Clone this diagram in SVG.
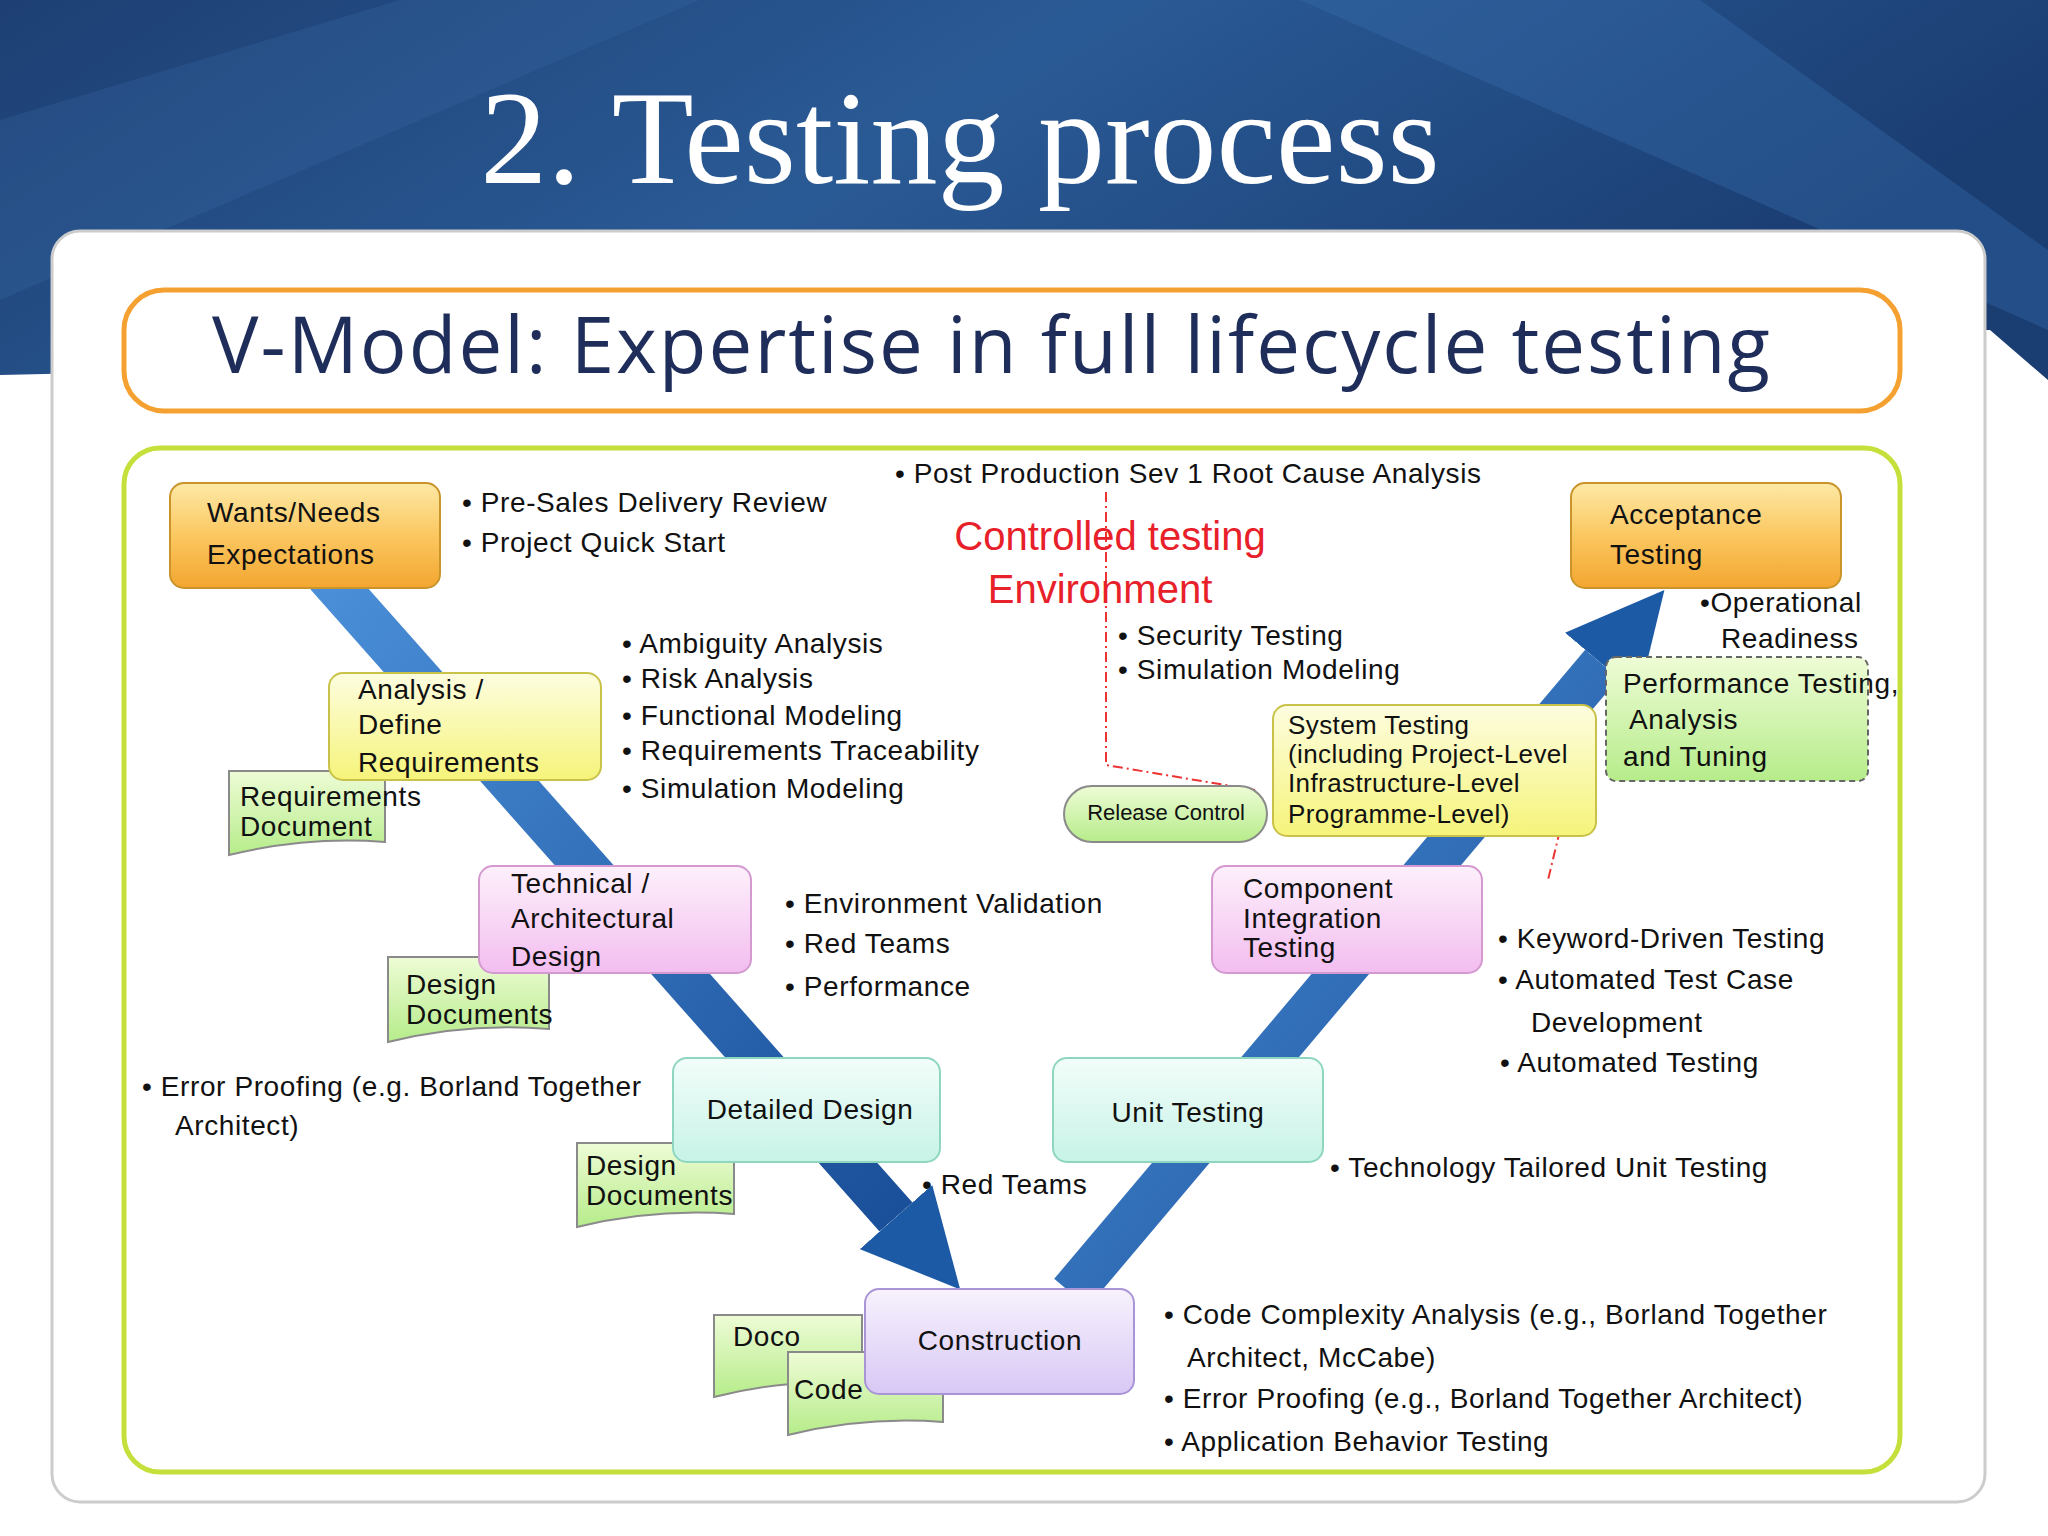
<svg xmlns="http://www.w3.org/2000/svg" width="2048" height="1536" viewBox="0 0 2048 1536">
<defs>
<linearGradient id="bg" x1="0" y1="0" x2="1" y2="0.3"><stop offset="0" stop-color="#1d3f73"/><stop offset="0.5" stop-color="#2a5a95"/><stop offset="1" stop-color="#1a3d72"/></linearGradient>
<linearGradient id="org" x1="0" y1="0" x2="0" y2="1"><stop offset="0" stop-color="#fde9a6"/><stop offset="0.5" stop-color="#fbc760"/><stop offset="1" stop-color="#f3a630"/></linearGradient>
<linearGradient id="yel" x1="0" y1="0" x2="0" y2="1"><stop offset="0" stop-color="#fdfde0"/><stop offset="1" stop-color="#f6f47a"/></linearGradient>
<linearGradient id="pnk" x1="0" y1="0" x2="0" y2="1"><stop offset="0" stop-color="#fdf0fb"/><stop offset="1" stop-color="#f3bdf0"/></linearGradient>
<linearGradient id="cyn" x1="0" y1="0" x2="0" y2="1"><stop offset="0" stop-color="#f2fdfa"/><stop offset="1" stop-color="#c7f3e6"/></linearGradient>
<linearGradient id="lav" x1="0" y1="0" x2="0" y2="1"><stop offset="0" stop-color="#f7f2fd"/><stop offset="1" stop-color="#d8c8f5"/></linearGradient>
<linearGradient id="grn" x1="0" y1="0" x2="0" y2="1"><stop offset="0" stop-color="#eefcd6"/><stop offset="1" stop-color="#b6ec8a"/></linearGradient>
<linearGradient id="arr" x1="0" y1="0" x2="1" y2="1"><stop offset="0" stop-color="#4a8fd8"/><stop offset="1" stop-color="#1a4f99"/></linearGradient>
<marker id="ah" viewBox="0 0 10 10" refX="0" refY="5" markerWidth="2.2" markerHeight="2.2" orient="auto" markerUnits="strokeWidth"><path d="M0,0 L10,5 L0,10 Z" fill="#1d5aa6"/></marker>
</defs>
<style>
.t{font-family:"Liberation Sans",Arial,sans-serif;font-size:28px;letter-spacing:0.6px;fill:#111}
.s{font-family:"Liberation Sans",Arial,sans-serif;font-size:26px;letter-spacing:0.4px;fill:#111}
.c{text-anchor:middle}
.d{fill:url(#grn);stroke:#8a8a8a;stroke-width:2}
</style>
<rect width="2048" height="1536" fill="#fff"/>
<polygon points="0,0 2048,0 2048,380 1990,330 0,375" fill="url(#bg)"/>
<polygon points="1300,0 1700,0 2048,250 2048,330" fill="#3a6fb0" opacity="0.35"/>
<polygon points="0,120 400,0 700,0 0,300" fill="#3a6aa8" opacity="0.25"/>
<text x="960" y="183" font-family="Liberation Serif,serif" font-size="134" fill="#fff" text-anchor="middle">2. Testing process</text>
<rect x="52" y="231" width="1933" height="1271" rx="28" fill="#fff" stroke="#ccc" stroke-width="3"/>
<rect x="124" y="290" width="1776" height="121" rx="40" fill="#fff" stroke="#f5a132" stroke-width="5"/>
<text x="992" y="373" font-family="Open Sans,Liberation Sans,sans-serif" font-size="78" letter-spacing="2" fill="#1e2d5a" text-anchor="middle">V-Model:  Expertise in full lifecycle testing</text>
<rect x="124" y="448" width="1776" height="1024" rx="36" fill="#fff" stroke="#c5e03a" stroke-width="5"/>
<g id="connectors">
<line x1="327" y1="575" x2="896" y2="1217" stroke="url(#arr)" stroke-width="44" marker-end="url(#ah)"/>
<line x1="1071" y1="1293" x2="1602" y2="664" stroke="url(#arr)" stroke-width="44" marker-end="url(#ah)"/>
<path d="M1106,492 V765 L1255,790" fill="none" stroke="#e33" stroke-width="2" stroke-dasharray="10,4,2,4"/>
<path d="M1560,830 L1548,880" fill="none" stroke="#e33" stroke-width="2" stroke-dasharray="10,4,2,4"/>
</g>
<g id="wants"><rect x="170" y="483" width="270" height="105" rx="14" fill="url(#org)" stroke="#c9952a" stroke-width="2"/><text class="t" x="207" y="522">Wants/Needs</text><text class="t" x="207" y="564">Expectations</text></g>
<g id="reqdoc"><path class="d" d="M229,771 H385 V842 Q307,836 229,855 Z"/><text class="t" x="240" y="806">Requirements</text><text class="t" x="240" y="836">Document</text></g>
<g id="analysis"><rect x="329" y="673" width="272" height="107" rx="14" fill="url(#yel)" stroke="#c9c24a" stroke-width="2"/><text class="t" x="358" y="699">Analysis /</text><text class="t" x="358" y="734">Define</text><text class="t" x="358" y="772">Requirements</text></g>
<g id="designdoc1"><path class="d" d="M388,957 H549 V1029 Q468,1022 388,1042 Z"/><text class="t" x="406" y="994">Design</text><text class="t" x="406" y="1024">Documents</text></g>
<g id="tech"><rect x="479" y="866" width="272" height="107" rx="14" fill="url(#pnk)" stroke="#d49ad0" stroke-width="2"/><text class="t" x="511" y="893">Technical /</text><text class="t" x="511" y="928">Architectural</text><text class="t" x="511" y="966">Design</text></g>
<g id="designdoc2"><path class="d" d="M577,1143 H734 V1214 Q655,1208 577,1227 Z"/><text class="t" x="586" y="1175">Design</text><text class="t" x="586" y="1205">Documents</text></g>
<g id="detailed"><rect x="673" y="1058" width="267" height="104" rx="14" fill="url(#cyn)" stroke="#8fd6c0" stroke-width="2"/><text class="t c" x="810" y="1119">Detailed Design</text></g>
<g id="doco"><path class="d" d="M714,1315 H862 V1384 Q788,1378 714,1397 Z"/><text class="t" x="733" y="1346">Doco</text></g>
<g id="code"><path class="d" d="M788,1352 H943 V1422 Q865,1416 788,1435 Z"/><text class="t" x="794" y="1399">Code</text></g>
<g id="construction"><rect x="865" y="1289" width="269" height="105" rx="14" fill="url(#lav)" stroke="#a995d6" stroke-width="2"/><text class="t c" x="1000" y="1350">Construction</text></g>
<g id="unit"><rect x="1053" y="1058" width="270" height="104" rx="14" fill="url(#cyn)" stroke="#8fd6c0" stroke-width="2"/><text class="t c" x="1188" y="1122">Unit Testing</text></g>
<g id="component"><rect x="1212" y="866" width="270" height="107" rx="14" fill="url(#pnk)" stroke="#d49ad0" stroke-width="2"/><text class="t" x="1243" y="898">Component</text><text class="t" x="1243" y="928">Integration</text><text class="t" x="1243" y="957">Testing</text></g>
<g id="release"><rect x="1064" y="786" width="203" height="56" rx="28" fill="url(#grn)" stroke="#8a8a8a" stroke-width="2"/><text x="1166" y="820" font-family="Liberation Sans,sans-serif" font-size="22" fill="#111" text-anchor="middle">Release Control</text></g>
<g id="system"><rect x="1273" y="705" width="323" height="131" rx="14" fill="url(#yel)" stroke="#c9c24a" stroke-width="2"/><text class="s" x="1288" y="734">System Testing</text><text class="s" x="1288" y="763">(including Project-Level</text><text class="s" x="1288" y="792">Infrastructure-Level</text><text class="s" x="1288" y="823">Programme-Level)</text></g>
<g id="perf"><rect x="1606" y="657" width="262" height="124" rx="10" fill="url(#grn)" stroke="#666" stroke-width="2" stroke-dasharray="6,4"/><text class="t" x="1623" y="693">Performance Testing,</text><text class="t" x="1629" y="729">Analysis</text><text class="t" x="1623" y="766">and Tuning</text></g>
<g id="acceptance"><rect x="1571" y="483" width="270" height="105" rx="14" fill="url(#org)" stroke="#c9952a" stroke-width="2"/><text class="t" x="1610" y="524">Acceptance</text><text class="t" x="1610" y="564">Testing</text></g>
<g id="notes">
<text class="t" x="462" y="512">•  Pre-Sales Delivery Review</text><text class="t" x="462" y="552">•  Project Quick Start</text>
<text class="t" x="895" y="483">•  Post Production Sev 1 Root Cause Analysis</text>
<text x="1110" y="550" font-family="Liberation Sans,sans-serif" font-size="40" fill="#e8202a" text-anchor="middle">Controlled testing</text>
<text x="1100" y="603" font-family="Liberation Sans,sans-serif" font-size="40" fill="#e8202a" text-anchor="middle">Environment</text>
<text class="t" x="622" y="653">•   Ambiguity Analysis</text><text class="t" x="622" y="688">•   Risk Analysis</text><text class="t" x="622" y="725">•   Functional Modeling</text><text class="t" x="622" y="760">•   Requirements Traceability</text><text class="t" x="622" y="798">•   Simulation Modeling</text>
<text class="t" x="1118" y="645">•  Security Testing</text><text class="t" x="1118" y="679">•  Simulation Modeling</text>
<text class="t" x="1700" y="612">•Operational</text><text class="t" x="1721" y="648">Readiness</text>
<text class="t" x="785" y="913">•  Environment Validation</text><text class="t" x="785" y="953">•  Red Teams</text><text class="t" x="785" y="996">•  Performance</text>
<text class="t" x="1498" y="948">•  Keyword-Driven Testing</text><text class="t" x="1498" y="989">•  Automated Test Case</text><text class="t" x="1531" y="1032">Development</text><text class="t" x="1500" y="1072">•  Automated Testing</text>
<text class="t" x="142" y="1096">•  Error Proofing (e.g. Borland Together</text><text class="t" x="175" y="1135">Architect)</text>
<text class="t" x="922" y="1194">•   Red Teams</text>
<text class="t" x="1330" y="1177">•  Technology Tailored Unit Testing</text>
<text class="t" x="1164" y="1324">• Code Complexity Analysis (e.g., Borland Together</text><text class="t" x="1187" y="1367">Architect, McCabe)</text><text class="t" x="1164" y="1408">• Error Proofing (e.g., Borland Together Architect)</text><text class="t" x="1164" y="1451">• Application Behavior Testing</text>
</g>
</svg>
